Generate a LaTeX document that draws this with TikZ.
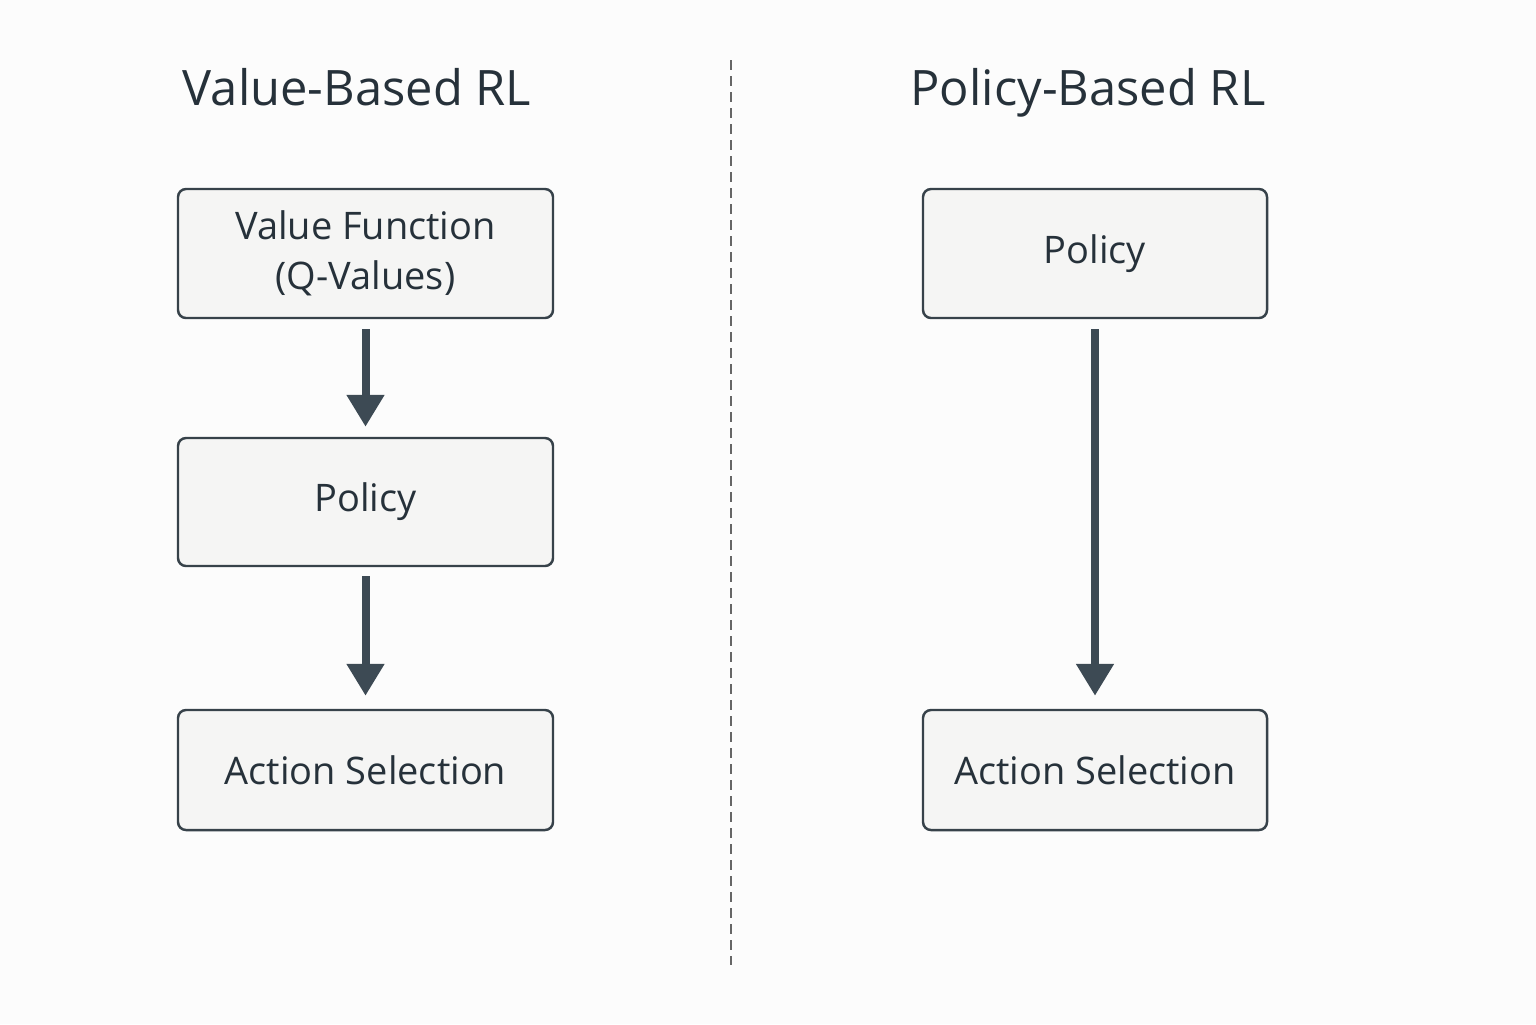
\documentclass[tikz,border=0pt]{standalone}
\usepackage{fontspec}
\setmainfont{Open Sans}
\usetikzlibrary{arrows.meta}

\definecolor{inkslate}{HTML}{26313A}
\definecolor{boxline}{HTML}{37424A}
\definecolor{boxfill}{HTML}{F5F5F4}
\definecolor{arrowslate}{HTML}{3D4A54}

\tikzset{
  rlbox/.style={draw=boxline, line width=0.7pt, fill=boxfill, rounded corners=0.08cm,
    text=inkslate, font=\fontsize{10.8}{14.2}\selectfont, align=center, inner sep=0pt},
  rltitle/.style={text=inkslate, font=\fontsize{13.9}{16}\selectfont, anchor=base},
  flow/.style={draw=arrowslate, line width=0.08cm, -{Triangle[width=0.36cm,length=0.32cm]}}
}

\begin{document}
\begin{tikzpicture}
\useasboundingbox[fill=white!99!black] (0,0) rectangle (15.36,-10.24);

% titles
\node[rltitle] (tval) at (3.57,-1.05) {Value-Based RL};
\node[rltitle] (tpol) at (10.88,-1.05) {Policy-Based RL};

% separator
\coordinate (sepA) at (7.31,-0.60);
\coordinate (sepB) at (7.31,-9.65);
\draw[gray!80!black, line width=0.6pt, dash pattern=on 0.1cm off 0.06cm] (sepA) -- (sepB);

% value-based side
\node[rlbox, minimum width=3.75cm, minimum height=1.29cm] (VF) at (3.655,-2.535) {Value Function\\(Q-Values)};
\node[rlbox, minimum width=3.75cm, minimum height=1.28cm] (P1) at (3.655,-5.02) {Policy};
\node[rlbox, minimum width=3.75cm, minimum height=1.20cm] (A1) at (3.655,-7.70) {Action Selection};

\draw[flow, shorten <=0.1cm, shorten >=0.1cm] (VF) -- (P1);
\draw[flow, shorten <=0.09cm, shorten >=0.13cm] (P1) -- (A1);

% policy-based side
\node[rlbox, minimum width=3.44cm, minimum height=1.29cm] (P2) at (10.95,-2.535) {Policy};
\node[rlbox, minimum width=3.44cm, minimum height=1.20cm] (A2) at (10.95,-7.70) {Action Selection};

\draw[flow, shorten <=0.1cm, shorten >=0.13cm] (P2) -- (A2);

\end{tikzpicture}
\end{document}
